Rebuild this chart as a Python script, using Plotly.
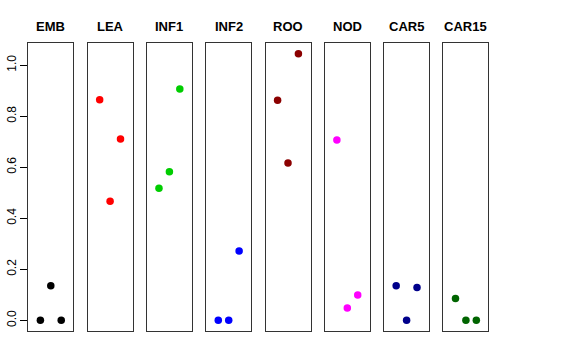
import plotly.graph_objects as go

categories = ["EMB", "LEA", "INF1", "INF2", "ROO", "NOD", "CAR5", "CAR15"]
colors = ["#000000", "#FF0000", "#00CD00", "#0000FF", "#8B0000", "#FF00FF", "#00008B", "#006400"]
values = [
    [0.0, 0.136, 0.0],
    [0.865, 0.467, 0.711],
    [0.518, 0.582, 0.907],
    [0.0, 0.0, 0.272],
    [0.863, 0.617, 1.045],
    [0.707, 0.048, 0.099],
    [0.136, 0.0, 0.129],
    [0.086, 0.0, 0.0],
]
positions = [1, 2, 3]
yticks = [0.0, 0.2, 0.4, 0.6, 0.8, 1.0]
yticklabels = ["0.0", "0.2", "0.4", "0.6", "0.8", "1.0"]

W, H = 576, 360
left0, pw, step = 28.3, 45.0, 59.3
top_px, bot_px = 43.0, 331.0
ydom = [(H - bot_px) / H, (H - top_px) / H]
yr = [-0.0418, 1.087]

fig = go.Figure()
for i, (cat, col, vals) in enumerate(zip(categories, colors, values)):
    n = i + 1
    xa = "x" if n == 1 else f"x{n}"
    ya = "y" if n == 1 else f"y{n}"
    fig.add_trace(go.Scatter(x=positions, y=vals, mode="markers",
                             marker=dict(color=col, size=7.5, line=dict(width=0)),
                             xaxis=xa, yaxis=ya, showlegend=False, hoverinfo="skip"))
    x0 = left0 + i * step
    dom = [x0 / W, (x0 + pw) / W]
    xkey = "xaxis" if n == 1 else f"xaxis{n}"
    ykey = "yaxis" if n == 1 else f"yaxis{n}"
    fig.layout[xkey] = dict(domain=dom, range=[-0.16, 4.16], showgrid=False, zeroline=False,
                            showticklabels=False, ticks="", showline=True, mirror=True,
                            linecolor="#333333", linewidth=1, anchor=ya, fixedrange=True,
                            automargin=False)
    ycfg = dict(domain=ydom, range=yr, showgrid=False, zeroline=False, showline=True,
                mirror=True, linecolor="#333333", linewidth=1, anchor=xa, fixedrange=True,
                automargin=False)
    if n == 1:
        ycfg.update(tickmode="array", tickvals=yticks, ticktext=yticklabels, ticks="outside",
                    ticklen=7, tickcolor="black", tickangle=-90,
                    tickfont=dict(family="Liberation Sans, Arial, sans-serif", size=12, color="black"))
    else:
        ycfg.update(showticklabels=False, ticks="")
    fig.layout[ykey] = ycfg
    fig.add_annotation(x=(x0 + pw / 2) / W, y=(H - 27) / H, xref="paper", yref="paper",
                       text=f"<b>{cat}</b>", showarrow=False, xanchor="center", yanchor="middle",
                       font=dict(family="Liberation Sans, Arial, sans-serif", size=13, color="black"))

fig.update_layout(template="none", width=W, height=H, margin=dict(l=0, r=0, t=0, b=0),
                  paper_bgcolor="white", plot_bgcolor="white")
fig.write_html("out.html", config={"displayModeBar": False, "staticPlot": True},
               post_script="document.body.style.margin='0';document.body.style.overflow='hidden';")
